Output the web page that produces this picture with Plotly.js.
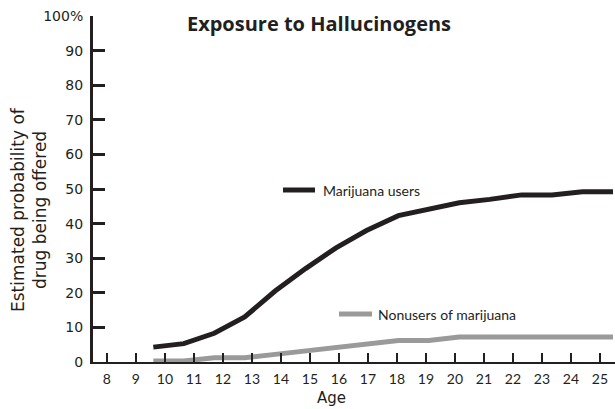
<!DOCTYPE html>
<html>
<head>
<meta charset="utf-8">
<script src="https://cdn.plot.ly/plotly-3.0.1.min.js"></script>
<style>html,body{margin:0;padding:0;background:#fff;}#chart{width:615px;height:409px;}</style>
</head>
<body>
<div id="chart"></div>
<script>
// Positions of the plotted points along the age axis
const agePositions = [9.6, 10.65, 11.7, 12.75, 13.8, 14.85, 15.9, 16.95, 18.05, 19.1, 20.15, 21.2, 22.3, 23.35, 24.4, 25.45];
// Estimated probability (%) of being offered hallucinogens
const marijuanaUsers = [4.3, 5.3, 8.3, 13, 20.5, 27, 33, 38, 42.3, 44, 46, 47, 48.3, 48.3, 49.2, 49.2];
const nonusers = [0.3, 0.3, 1.2, 1.2, 2.2, 3.2, 4.2, 5.2, 6.2, 6.2, 7.2, 7.2, 7.2, 7.2, 7.2, 7.2];
const xTickVals = [8, 9, 10, 11, 12, 13, 14, 15, 16, 17, 18, 19, 20, 21, 22, 23, 24, 25];
const xTickText = ["8", "9", "10", "11", "12", "13", "14", "15", "16", "17", "18", "19", "20", "21", "22", "23", "24", "25"];
const yTickVals = [0, 10, 20, 30, 40, 50, 60, 70, 80, 90, 100];
const yTickText = ["0", "10", "20", "30", "40", "50", "60", "70", "80", "90", "100%"];
const seriesNames = ["Marijuana users", "Nonusers of marijuana"];

const ink = "#231f20";
const grey = "#9a9a9a";

const traces = [
  {x: agePositions, y: nonusers, type: "scatter", mode: "lines", name: seriesNames[1],
   line: {color: grey, width: 5}, hoverinfo: "skip"},
  {x: agePositions, y: marijuanaUsers, type: "scatter", mode: "lines", name: seriesNames[0],
   line: {color: ink, width: 5}, hoverinfo: "skip"}
];

const L = 93, T = 16, W = 522, H = 346;
function px(x) { return (x - L) / W; }
function py(y) { return (T + H - y) / H; }

const layout = {
  width: 615, height: 409,
  margin: {l: L, r: 0, t: T, b: 409 - T - H, pad: 0},
  paper_bgcolor: "#ffffff", plot_bgcolor: "#ffffff",
  showlegend: false,
  title: {text: "<b>Exposure to Hallucinogens</b>", font: {family: "Open Sans", size: 20, color: ink},
          x: 319 / 615, xanchor: "center", xref: "container", y: 1 - 24 / 409, yanchor: "middle", yref: "container"},
  xaxis: {range: [7.52, 25.52], tickvals: xTickVals, ticktext: xTickText, showgrid: false, zeroline: false,
          showline: true, linecolor: ink, linewidth: 2, ticks: "inside", ticklen: 9, tickwidth: 2, tickcolor: ink,
          tickfont: {family: "Lato", size: 14, color: ink}, ticklabelstandoff: 3, fixedrange: true},
  yaxis: {range: [0, 100], tickvals: yTickVals, ticktext: yTickText, showgrid: false, zeroline: false,
          showline: true, linecolor: ink, linewidth: 3, ticks: "inside", ticklen: 12, tickwidth: 3, tickcolor: ink,
          tickfont: {family: "DejaVu Sans", size: 14, color: ink}, ticklabelstandoff: 4, fixedrange: true},
  annotations: [
    {text: "Estimated probability of", xref: "paper", yref: "paper", x: px(18), y: py(210), textangle: -90,
     showarrow: false, xanchor: "center", yanchor: "middle", font: {family: "DejaVu Sans", size: 17, color: ink}},
    {text: "drug being offered", xref: "paper", yref: "paper", x: px(40), y: py(210), textangle: -90,
     showarrow: false, xanchor: "center", yanchor: "middle", font: {family: "DejaVu Sans", size: 17, color: ink}},
    {text: "Age", xref: "paper", yref: "paper", x: px(331), y: py(398), showarrow: false,
     xanchor: "center", yanchor: "middle", font: {family: "DejaVu Sans", size: 15, color: ink}},
    {text: seriesNames[0], xref: "paper", yref: "paper", x: px(321), y: py(190), showarrow: false,
     xanchor: "left", yanchor: "middle", font: {family: "Lato", size: 14, color: ink}},
    {text: seriesNames[1], xref: "paper", yref: "paper", x: px(376), y: py(314), showarrow: false,
     xanchor: "left", yanchor: "middle", font: {family: "Lato", size: 14, color: ink}}
  ],
  shapes: [
    {type: "line", xref: "paper", yref: "paper", x0: px(283), x1: px(315), y0: py(190), y1: py(190),
     line: {color: ink, width: 5}},
    {type: "line", xref: "paper", yref: "paper", x0: px(339), x1: px(372), y0: py(314), y1: py(314),
     line: {color: grey, width: 5}}
  ]
};

Plotly.newPlot("chart", traces, layout, {staticPlot: true, displayModeBar: false});
</script>
</body>
</html>
